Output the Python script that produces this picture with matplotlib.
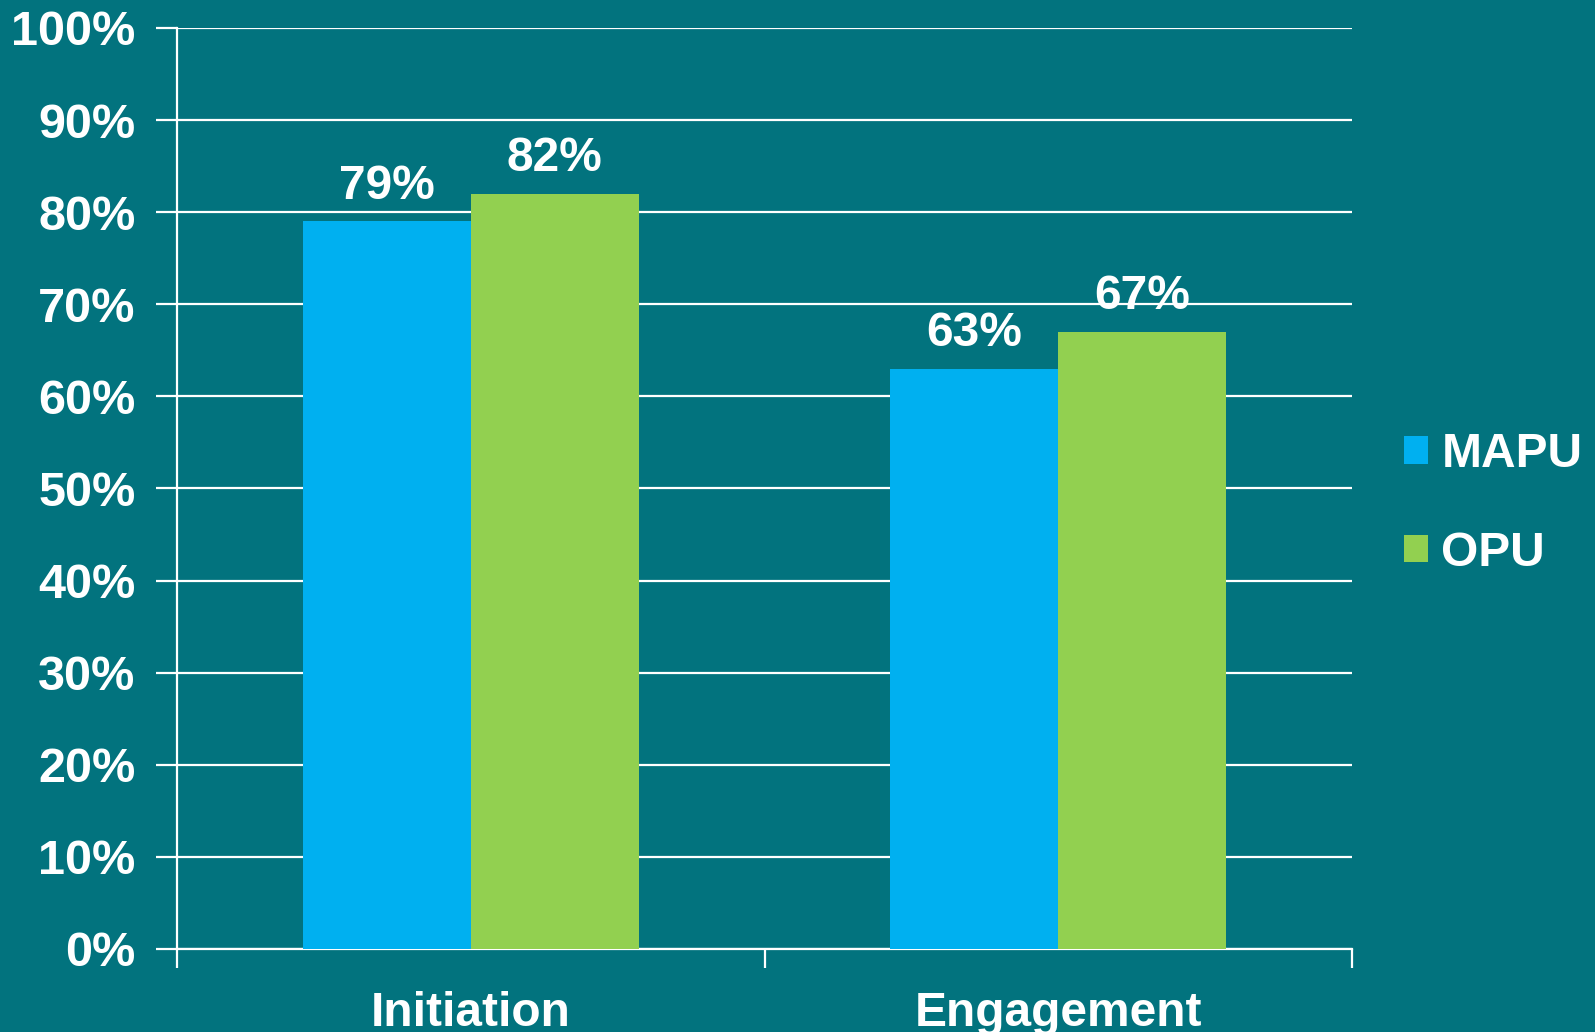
import numpy as np
import matplotlib
matplotlib.use('Agg')
import matplotlib.pyplot as plt

# data
categories = ['Initiation', 'Engagement']
series = ['MAPU', 'OPU']
mapu = [79, 63]
opu = [82, 67]
ticks = [0, 10, 20, 30, 40, 50, 60, 70, 80, 90, 100]

bg = '#02737E'
colors = ['#00B0F0', '#92D050']

plt.rcParams['font.family'] = ['Liberation Sans', 'DejaVu Sans']
plt.rcParams['font.weight'] = 'bold'

fig = plt.figure(figsize=(15.95, 10.32), dpi=100, facecolor=bg)
ax = fig.add_axes([177/1595, 1-949/1032, (1352-177)/1595, (949-28)/1032])
ax.set_facecolor(bg)

x = np.arange(len(categories))
w = 0.286
b1 = ax.bar(x - w/2, mapu, w, color=colors[0], label=series[0], zorder=3)
b2 = ax.bar(x + w/2, opu, w, color=colors[1], label=series[1], zorder=3)

for bars, vals in [(b1, mapu), (b2, opu)]:
    for r, v in zip(bars, vals):
        ax.text(r.get_x() + r.get_width()/2, v + 1.4, '%d%%' % v, ha='center', va='bottom',
                color='white', fontsize=34.5, fontweight='bold')

ax.set_xlim(-0.5, 1.5)
ax.set_ylim(0, 100)
ax.set_yticks(ticks)
ax.set_yticklabels(['%d%%' % t for t in ticks])
ax.yaxis.grid(True, color='white', linewidth=1.6, zorder=0)
ax.set_axisbelow(True)

ax.set_xticks([-0.5, 0.5, 1.5])
ax.set_xticklabels([])
ax.set_xticks(x, minor=True)
ax.set_xticklabels(categories, minor=True)
ax.tick_params(axis='x', which='major', length=14, width=1.6, color='white')
ax.tick_params(axis='x', which='minor', length=0, pad=30, labelsize=34.5, labelcolor='white')
ax.tick_params(axis='y', length=15, width=1.6, color='white', pad=15, labelsize=35, labelcolor='white')

for s in ['top', 'right']:
    ax.spines[s].set_visible(False)
for s in ['left', 'bottom']:
    ax.spines[s].set_color('white')
    ax.spines[s].set_linewidth(1.6)

leg = ax.legend(loc='center left', bbox_to_anchor=(1.028, 0.4835), frameon=False,
                fontsize=34.5, handlelength=0.5, handleheight=0.5, handletextpad=0.28,
                labelspacing=1.12, borderaxespad=0)
for t in leg.get_texts():
    t.set_color('white')
    t.set_fontweight('bold')

fig.savefig('out.png', dpi=100, facecolor=bg)
